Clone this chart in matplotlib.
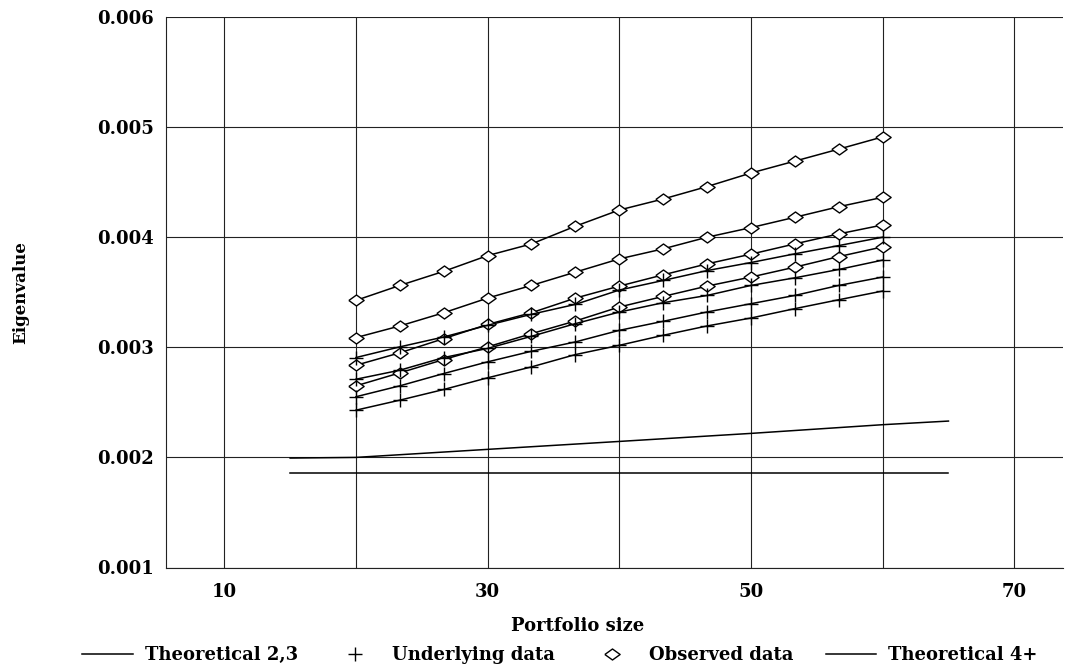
import matplotlib
matplotlib.use('Agg')
import matplotlib.pyplot as plt
from matplotlib.lines import Line2D

plt.rcParams['font.family'] = 'DejaVu Serif'
plt.rcParams['font.weight'] = 'bold'
plt.rcParams['axes.labelweight'] = 'bold'

# portfolio sizes where eigenvalues were computed
size = [20, 23.33, 26.67, 30, 33.33, 36.67, 40, 43.33, 46.67, 50, 53.33, 56.67, 60]

# observed data (diamonds), one list per eigenvalue
observed_1 = [0.003426, 0.003562, 0.00369, 0.003833, 0.003939, 0.0041, 0.004247,
              0.004347, 0.00446, 0.004583, 0.004691, 0.0048, 0.004911]
observed_2 = [0.003088, 0.003194, 0.003314, 0.003447, 0.003562, 0.003683, 0.003803,
              0.003894, 0.004, 0.004087, 0.004181, 0.004277, 0.004362]
observed_3 = [0.002837, 0.00295, 0.003079, 0.003208, 0.003314, 0.003447, 0.003556,
              0.003658, 0.003758, 0.003846, 0.003939, 0.00403, 0.004111]
observed_4 = [0.00265, 0.002768, 0.002889, 0.003004, 0.003124, 0.003239, 0.003366,
              0.003462, 0.003556, 0.003638, 0.003728, 0.003824, 0.003912]

# underlying data (plus signs)
underlying_1 = [0.002907, 0.003004, 0.003094, 0.0032, 0.0033, 0.00339, 0.00352,
                0.003607, 0.003697, 0.00377, 0.003849, 0.003924, 0.004]
underlying_2 = [0.00271, 0.002792, 0.002907, 0.00299, 0.0031, 0.003215, 0.00332,
                0.003405, 0.003471, 0.003562, 0.003631, 0.003707, 0.003792]
underlying_3 = [0.002551, 0.00265, 0.002762, 0.002868, 0.002964, 0.003049, 0.003154,
                0.003236, 0.003321, 0.003396, 0.003471, 0.003562, 0.003638]
underlying_4 = [0.002429, 0.00252, 0.002617, 0.002723, 0.002822, 0.002934, 0.003018,
                0.003109, 0.003194, 0.003266, 0.003351, 0.003432, 0.003511]

# theoretical curves
theory23_x = [15, 20, 30, 40, 50, 60, 65]
theory23_y = [0.001994, 0.002, 0.002073, 0.002145, 0.002218, 0.002297, 0.00233]
theory4_x = [15, 65]
theory4_y = [0.00186, 0.00186]

x_labels = [10, 30, 50, 70]
x_grid = [20, 40, 60]
y_ticks = [0.001, 0.002, 0.003, 0.004, 0.005, 0.006]

# wide flat diamond
diamond = [(-1, 0), (0, 0.72), (1, 0), (0, -0.72), (-1, 0)]

fig = plt.figure(figsize=(10.65, 6.7), dpi=100)
ax = fig.add_axes([166/1065, 1 - 567.5/670, (1063-166)/1065, 550.5/670])

for ys in (observed_1, observed_2, observed_3, observed_4):
    ax.plot(size, ys, color='black', lw=1.1, marker=diamond, ms=11,
            mfc='white', mec='black', mew=1.0, zorder=3)
for ys in (underlying_1, underlying_2, underlying_3, underlying_4):
    ax.plot(size, ys, color='black', lw=1.1, marker='+', ms=10, mew=1.0, zorder=3)
ax.plot(theory23_x, theory23_y, color='black', lw=1.1, zorder=3)
ax.plot(theory4_x, theory4_y, color='black', lw=1.1, zorder=3)

ax.set_xlim(5.57, 73.7)
ax.set_ylim(0.001, 0.006)
ax.set_xticks(x_labels)
ax.set_xticks(x_grid, minor=True)
ax.set_yticks(y_ticks)
ax.set_yticklabels(['%.3f' % v for v in y_ticks])
ax.tick_params(which='both', length=0, labelsize=13)
ax.tick_params(axis='x', pad=11)
ax.tick_params(axis='y', pad=9)
ax.grid(True, which='both', color='#222222', lw=0.8)
ax.set_axisbelow(True)
for side in ('top', 'right'):
    ax.spines[side].set_visible(False)
for side in ('left', 'bottom'):
    ax.spines[side].set_color('#222222')
    ax.spines[side].set_linewidth(0.8)

ax.set_xlabel('Portfolio size', fontsize=13)
ax.xaxis.set_label_coords(0.459, -0.09)
ax.set_ylabel('Eigenvalue', fontsize=12)
ax.yaxis.set_label_coords(-0.152, 0.5)

handles = [
    Line2D([], [], color='black', lw=1.1),
    Line2D([], [], color='black', ls='none', marker='+', ms=10, mew=1.0),
    Line2D([], [], color='black', ls='none', marker=diamond, ms=11, mfc='white', mew=1.0),
    Line2D([], [], color='black', lw=1.1),
]
labels = ['Theoretical 2,3', 'Underlying data', 'Observed data', 'Theoretical 4+']
fig.legend(handles, labels, loc='center', bbox_to_anchor=(560/1065, 1 - 655/670),
           ncol=4, frameon=False, fontsize=13, handlelength=2.78,
           handletextpad=0.67, columnspacing=1.78)

fig.savefig('out.png', dpi=100)
